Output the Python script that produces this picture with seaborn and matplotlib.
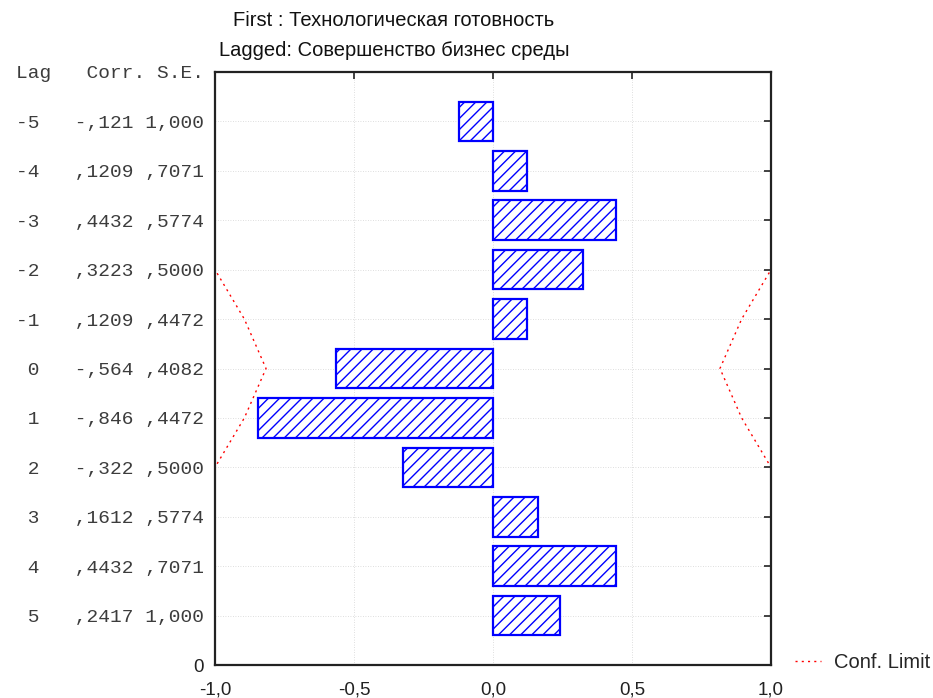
import numpy as np
import pandas as pd
import matplotlib
matplotlib.use("Agg")
import matplotlib.pyplot as plt
import seaborn as sns
from matplotlib.lines import Line2D

# ---------------- Data ----------------
lags = [-5, -4, -3, -2, -1, 0, 1, 2, 3, 4, 5]
corr = [-0.121, 0.1209, 0.4432, 0.3223, 0.1209, -0.564, -0.846, -0.322, 0.1612, 0.4432, 0.2417]
se = [1.000, 0.7071, 0.5774, 0.5000, 0.4472, 0.4082, 0.4472, 0.5000, 0.5774, 0.7071, 1.000]

title_first = "First : Технологическая готовность"
title_lagged = "Lagged: Совершенство бизнес среды"
header = "Lag   Corr. S.E."
legend_label = "Conf. Limit"


def stat_fmt(v):
    # STATISTICA style: no leading zero, comma decimal, width 5
    if abs(v) >= 1:
        s = f"{abs(v):.3f}"
    elif v < 0:
        s = f"{abs(v):.3f}"[1:]
    else:
        s = f"{v:.4f}"[1:]
    s = s.replace(".", ",")
    return ("-" + s) if v < 0 else s


# lag -5 on top -> position 11, lag 5 -> position 1
pos = [6 - l for l in lags]

df = pd.DataFrame({"lag": lags, "corr": corr, "se": se, "pos": pos})
df["conf"] = 2 * df["se"]

# ---------------- Setup ----------------
sns.set_theme(style="white")
plt.rcParams["font.family"] = ["Liberation Sans", "DejaVu Sans"]
plt.rcParams["hatch.color"] = "blue"
plt.rcParams["hatch.linewidth"] = 1.0

fig = plt.figure(figsize=(9.33, 6.98), dpi=100)
ax = fig.add_axes([215 / 933, 33 / 698, 556 / 933, 593 / 698])

sns.barplot(
    data=df,
    x="corr",
    y="pos",
    orient="y",
    native_scale=True,
    width=0.8,
    color="white",
    edgecolor="blue",
    linewidth=1.6,
    hatch="///",
    ax=ax
)

for sign in (1, -1):
    ax.plot(
        sign * df["conf"],
        df["pos"],
        color="red",
        linewidth=1.0,
        linestyle=(0, (1.5, 3)),
        clip_on=True
    )

ax.set_xlim(-1, 1)
ax.set_ylim(0, 12)

ax.set_xticks([-1, -0.5, 0, 0.5, 1])
ax.set_xticklabels(["-1,0", "-0,5", "0,0", "0,5", "1,0"], fontsize=13.5, color="#222222")

ytick_pos = [0] + pos + [12]
ytick_lab = ["0"] + [
    f"{l:>2}   {stat_fmt(c)} {stat_fmt(s)}" for l, c, s in zip(lags, corr, se)
] + [header]
ax.set_yticks(ytick_pos)
ax.set_yticklabels(ytick_lab)
for i, t in enumerate(ax.get_yticklabels()):
    if i == 0:
        t.set_fontsize(13.5)
        t.set_color("#222222")
    else:
        t.set_family("Liberation Mono")
        t.set_fontsize(14)
        t.set_color("#3c3c3c")

ax.set_xlabel("")
ax.set_ylabel("")

ax.tick_params(
    axis="both", which="both", direction="in",
    top=True, right=True, length=5, width=1.2, color="#222222"
)
ax.tick_params(axis="x", pad=12)
ax.tick_params(axis="y", pad=8)

ax.grid(True, color="#d4d4d4", linestyle=(0, (1, 2)), linewidth=0.6)
ax.set_axisbelow(True)

for sp in ax.spines.values():
    sp.set_color("#222222")
    sp.set_linewidth(1.6)

fig.text(394 / 933, 1 - 21 / 698, title_first, ha="center", va="center",
         fontsize=14.5, color="#111111")
fig.text(394 / 933, 1 - 51 / 698, title_lagged, ha="center", va="center",
         fontsize=14.5, color="#111111")

handle = Line2D([], [], color="red", linewidth=1.0, linestyle=(0, (1.5, 3)))
ax.legend(
    [handle], [legend_label],
    loc="center left",
    bbox_to_anchor=(1.043, 0.004),
    frameon=False,
    borderpad=0,
    borderaxespad=0,
    handlelength=1.3,
    handletextpad=0.65,
    fontsize=14.5
)

fig.savefig("out.png", dpi=100)
